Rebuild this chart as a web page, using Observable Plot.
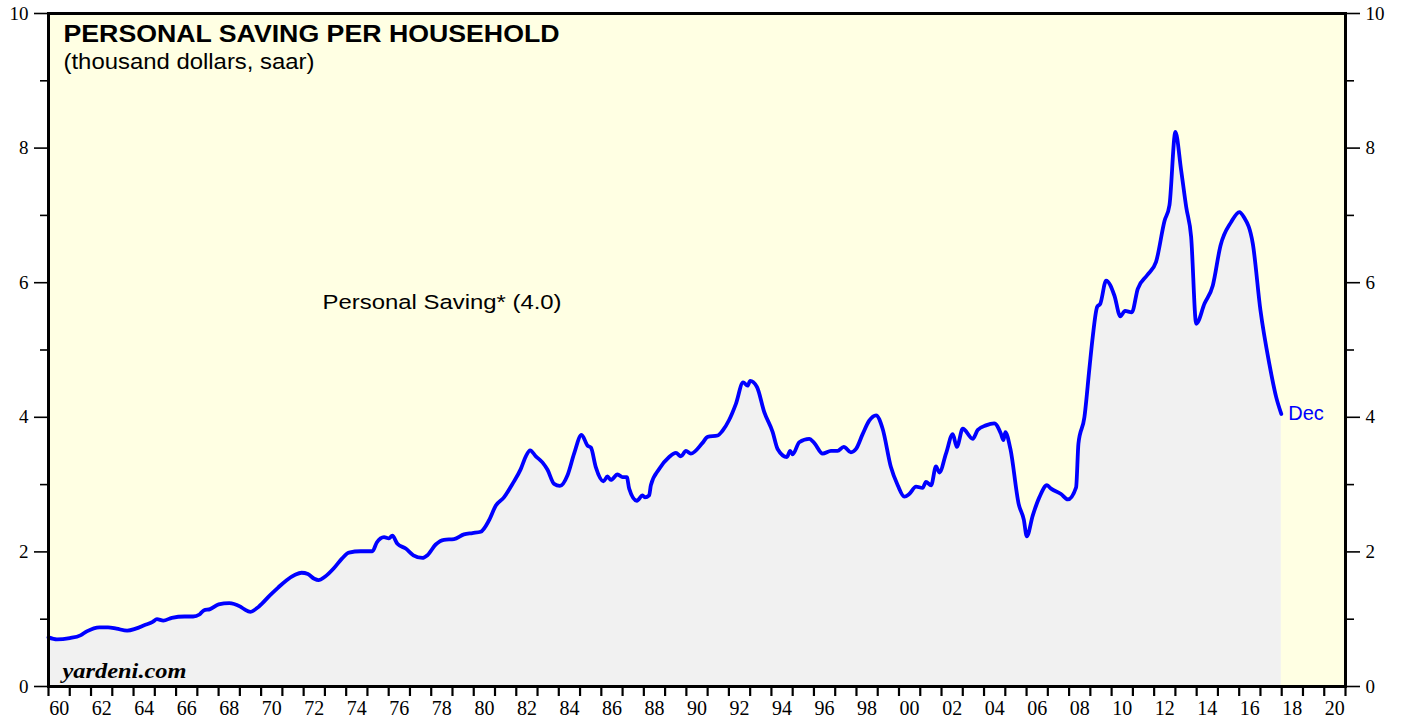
<!DOCTYPE html>
<html>
<head>
<meta charset="utf-8">
<script src="https://cdn.jsdelivr.net/npm/d3@7"></script>
<script src="https://cdn.jsdelivr.net/npm/@observablehq/plot@0.6"></script>
<style>
  html, body { margin: 0; padding: 0; background: #ffffff; }
  #chart svg { display: block; }
</style>
</head>
<body>
<div id="chart"></div>
<script>
// ---- data ----
const years = [
  1960.0, 1960.4, 1961.0, 1961.5, 1961.8, 1962.4, 1962.8, 1963.2, 1963.7, 1964.1,
  1964.5, 1964.9, 1965.1, 1965.4, 1965.8, 1966.4, 1966.8, 1967.1, 1967.3, 1967.6,
  1968.0, 1968.5, 1969.0, 1969.2, 1969.5, 1969.9, 1970.4, 1970.8, 1971.2, 1971.6,
  1971.9, 1972.2, 1972.5, 1972.7, 1973.0, 1973.43, 1973.8, 1974.13, 1974.68, 1975.23,
  1975.44, 1975.78, 1976.01, 1976.17, 1976.41, 1976.8, 1977.16, 1977.59, 1977.82, 1978.21,
  1978.6, 1979.07, 1979.54, 1979.94, 1980.33, 1980.72, 1981.04, 1981.42, 1981.82, 1982.21,
  1982.45, 1982.65, 1982.92, 1983.23, 1983.47, 1983.78, 1984.05, 1984.41, 1984.72, 1985.07,
  1985.35, 1985.51, 1985.74, 1986.1, 1986.29, 1986.45, 1986.76, 1987.0, 1987.2, 1987.31,
  1987.67, 1987.94, 1988.05, 1988.25, 1988.33, 1988.72, 1989.19, 1989.51, 1989.74, 1989.98,
  1990.21, 1990.76, 1991.0, 1991.47, 1991.7, 1992.01, 1992.33, 1992.67, 1992.88, 1993.0,
  1993.32, 1993.66, 1994.06, 1994.29, 1994.73, 1994.88, 1995.0, 1995.31, 1995.78, 1996.01,
  1996.41, 1996.8, 1997.11, 1997.4, 1997.74, 1997.98, 1998.29, 1998.6, 1998.92, 1999.23,
  1999.62, 1999.94, 2000.25, 2000.48, 2000.8, 2001.11, 2001.27, 2001.51, 2001.74, 2001.9,
  2002.21, 2002.53, 2002.72, 2003.0, 2003.47, 2003.7, 2004.09, 2004.48, 2004.8, 2004.91,
  2005.0, 2005.24, 2005.63, 2005.87, 2006.01, 2006.29, 2006.6, 2006.96, 2007.15, 2007.62,
  2007.94, 2008.33, 2008.44, 2008.72, 2008.96, 2009.11, 2009.32, 2009.47, 2009.74, 2010.13,
  2010.41, 2010.63, 2010.95, 2011.23, 2011.67, 2012.09, 2012.49, 2012.72, 2013.0, 2013.27,
  2013.51, 2013.74, 2013.98, 2014.37, 2014.76, 2015.12, 2015.62, 2016.01, 2016.21, 2016.64,
  2017.0, 2017.42, 2017.74, 2017.98
];
const saving = [
  0.73, 0.70, 0.72, 0.76, 0.82, 0.88, 0.88, 0.86, 0.83, 0.86,
  0.91, 0.96, 1.00, 0.98, 1.02, 1.04, 1.04, 1.07, 1.13, 1.15,
  1.22, 1.24, 1.19, 1.15, 1.11, 1.19, 1.35, 1.47, 1.58, 1.66,
  1.69, 1.67, 1.60, 1.58, 1.63, 1.76, 1.90, 1.99, 2.01, 2.01,
  2.14, 2.22, 2.20, 2.24, 2.12, 2.05, 1.95, 1.91, 1.95, 2.11,
  2.18, 2.19, 2.26, 2.28, 2.30, 2.47, 2.69, 2.81, 3.01, 3.23,
  3.42, 3.51, 3.42, 3.33, 3.22, 3.01, 2.98, 3.14, 3.46, 3.74,
  3.58, 3.55, 3.26, 3.05, 3.12, 3.07, 3.15, 3.11, 3.11, 2.94,
  2.76, 2.84, 2.81, 2.84, 2.99, 3.23, 3.41, 3.47, 3.42, 3.50,
  3.46, 3.62, 3.71, 3.73, 3.80, 3.96, 4.20, 4.52, 4.47, 4.54,
  4.45, 4.08, 3.78, 3.53, 3.41, 3.50, 3.45, 3.63, 3.68, 3.62,
  3.46, 3.50, 3.50, 3.56, 3.48, 3.53, 3.75, 3.95, 4.03, 3.83,
  3.26, 2.99, 2.82, 2.86, 2.97, 2.95, 3.04, 2.99, 3.27, 3.18,
  3.46, 3.75, 3.56, 3.83, 3.68, 3.81, 3.88, 3.91, 3.75, 3.66,
  3.78, 3.53, 2.71, 2.48, 2.23, 2.54, 2.81, 2.99, 2.94, 2.86,
  2.78, 2.96, 3.61, 4.00, 4.74, 5.19, 5.64, 5.69, 6.03, 5.81,
  5.50, 5.58, 5.56, 5.91, 6.11, 6.31, 6.92, 7.15, 8.24, 7.67,
  7.12, 6.68, 5.39, 5.69, 5.96, 6.55, 6.90, 7.05, 6.98, 6.58,
  5.59, 4.79, 4.30, 4.05
];
const yMajorTicks = [0, 2, 4, 6, 8, 10];
const yMinorTicks = [1, 3, 5, 7, 9];
const xTickYears = [
  1960, 1961, 1962, 1963, 1964, 1965, 1966, 1967, 1968, 1969, 1970, 1971, 1972, 1973, 1974, 1975,
  1976, 1977, 1978, 1979, 1980, 1981, 1982, 1983, 1984, 1985, 1986, 1987, 1988, 1989, 1990, 1991,
  1992, 1993, 1994, 1995, 1996, 1997, 1998, 1999, 2000, 2001, 2002, 2003, 2004, 2005, 2006, 2007,
  2008, 2009, 2010, 2011, 2012, 2013, 2014, 2015, 2016, 2017, 2018, 2019, 2020, 2021
];
const xLabelYears = [1960, 1962, 1964, 1966, 1968, 1970, 1972, 1974, 1976, 1978, 1980, 1982, 1984, 1986, 1988,
  1990, 1992, 1994, 1996, 1998, 2000, 2002, 2004, 2006, 2008, 2010, 2012, 2014, 2016, 2018, 2020];
const xLabels = ["60", "62", "64", "66", "68", "70", "72", "74", "76", "78", "80", "82", "84", "86", "88",
  "90", "92", "94", "96", "98", "00", "02", "04", "06", "08", "10", "12", "14", "16", "18", "20"];

const titleText = "PERSONAL SAVING PER HOUSEHOLD";
const subtitleText = "(thousand dollars, saar)";
const seriesLabel = "Personal Saving* (4.0)";
const endLabel = "Dec";
const sourceText = "yardeni.com";

// ---- build ----
const table = years.map((x, i) => ({x, v: saving[i]}));
const last = table[table.length - 1];
const labelPos = xLabelYears.map(y => y + 0.5);
const labelMap = new Map(labelPos.map((p, i) => [p, xLabels[i]]));

const serif = "Liberation Serif, Times New Roman, serif";
const sans = "Liberation Sans, Arial, Helvetica, sans-serif";

const chart = Plot.plot({
  width: 1403,
  height: 719,
  marginLeft: 48,
  marginRight: 58,
  marginTop: 13,
  marginBottom: 33,
  style: {background: "transparent", overflow: "visible"},
  x: {domain: [1960, 2021]},
  y: {domain: [0, 10]},
  marks: [
    Plot.frame({fill: "#ffffe3", stroke: null}),
    Plot.areaY(table, {x: "x", y: "v", fill: "#f1f1f1", curve: "monotone-x"}),
    Plot.lineY(table, {x: "x", y: "v", stroke: "#0000ff", strokeWidth: 3.8, curve: "monotone-x", strokeLinejoin: "round"}),
    Plot.frame({stroke: "#000000", strokeWidth: 3}),
    // left axis
    Plot.axisY(yMajorTicks, {anchor: "left", tickSize: 14, tickPadding: 6, strokeWidth: 1.6,
      fontSize: 19, fontFamily: serif, fill: "#000", tickFormat: d => String(d), label: null}),
    Plot.axisY(yMinorTicks, {anchor: "left", tickSize: 8, strokeWidth: 1.6, tickFormat: () => "", label: null}),
    // right axis
    Plot.axisY(yMajorTicks, {anchor: "right", tickSize: 14, tickPadding: 6, strokeWidth: 1.6,
      fontSize: 19, fontFamily: serif, fill: "#000", tickFormat: d => String(d), label: null}),
    Plot.axisY(yMinorTicks, {anchor: "right", tickSize: 8, strokeWidth: 1.6, tickFormat: () => "", label: null}),
    // bottom axis
    Plot.axisX(xTickYears, {anchor: "bottom", tickSize: 10, strokeWidth: 2.2, tickFormat: () => "", label: null}),
    Plot.axisX(labelPos, {anchor: "bottom", tickSize: 0, tickPadding: 14, fontSize: 20, fontFamily: serif,
      fill: "#000", tickFormat: d => labelMap.get(d), label: null}),
    // annotations
    Plot.text([titleText], {frameAnchor: "top-left", dx: 15, dy: 12, lineAnchor: "top", textAnchor: "start",
      fontSize: 23, fontWeight: "bold", fontFamily: sans, fill: "#000"}),
    Plot.text([subtitleText], {frameAnchor: "top-left", dx: 15, dy: 40, lineAnchor: "top", textAnchor: "start",
      fontSize: 22, fontFamily: sans, fill: "#000"}),
    Plot.text([seriesLabel], {x: 1972.89, y: 5.71, textAnchor: "start", lineAnchor: "middle",
      fontSize: 20.5, fontFamily: sans, fill: "#000"}),
    Plot.text([last], {x: "x", y: "v", text: () => endLabel, dx: 7, textAnchor: "start", lineAnchor: "middle",
      fontSize: 20, fontFamily: sans, fill: "#0000ff"}),
    Plot.text([sourceText], {frameAnchor: "bottom-left", dx: 14, dy: -9, lineAnchor: "bottom", textAnchor: "start",
      fontSize: 20, fontWeight: "bold", fontStyle: "italic", fontFamily: serif, fill: "#000"})
  ]
});

// stretch the wide-set sans texts to the widths seen in the reference
const widths = new Map([[titleText, 496], [subtitleText, 251], [seriesLabel, 239], [sourceText, 124]]);
d3.select(chart).selectAll("text").each(function () {
  const w = widths.get(this.textContent);
  if (w) {
    this.setAttribute("textLength", w);
    this.setAttribute("lengthAdjust", "spacingAndGlyphs");
  }
});

document.getElementById("chart").appendChild(chart);
</script>
</body>
</html>
